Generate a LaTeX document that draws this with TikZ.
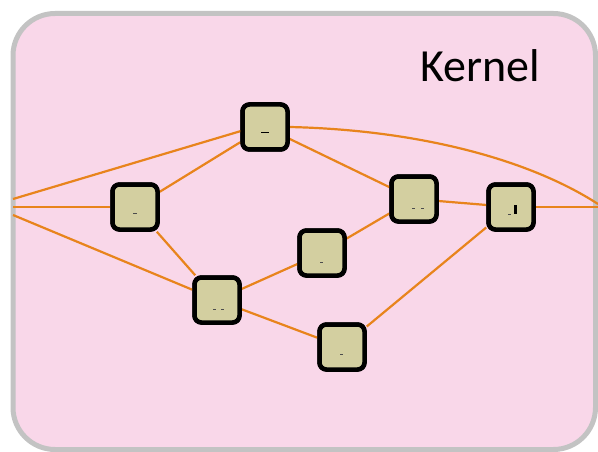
\documentclass[tikz,border=0pt]{standalone}
\usepackage{fontspec}
\setmainfont{Carlito}
\definecolor{kpink}{HTML}{F9D7E9}
\definecolor{kgray}{HTML}{C3C3C3}
\definecolor{kkhaki}{HTML}{D3CFA0}
\definecolor{korange}{HTML}{E8841C}
\tikzset{
  task/.style={draw=black, line width=4.5pt, fill=kkhaki, rounded corners=7pt,
    minimum width=45pt, minimum height=45pt, inner sep=0pt},
  flow/.style={draw=korange, line width=2.2pt},
  tick/.style={draw=black!70, line width=0.6pt}
}
\begin{document}
\begin{tikzpicture}[x=1pt,y=-1pt]
\useasboundingbox (0,0) rectangle (598,452);
\draw[kgray, fill=kpink, line width=5pt, rounded corners=42pt] (13,13.5) rectangle (595.5,449.5);
\node[font=\fontsize{46}{46}\selectfont, anchor=base] (kern) at (480,82) {Kernel};

\coordinate (l1) at (13,199);
\coordinate (l2) at (13,207);
\coordinate (l3) at (13,215);
\coordinate (r1) at (598,204);
\coordinate (r2) at (598,207);

\node[task] (A) at (265,127) {};
\node[task] (B) at (135,207) {};
\node[task] (C) at (414,199) {};
\node[task] (D) at (511,207) {};
\node[task] (E) at (217,300) {};
\node[task] (F) at (322,253) {};
\node[task] (G) at (342,347) {};

\draw[flow] (l1) -- (241,131);
\draw[flow] (l2) -- (B);
\draw[flow] (l3) -- (E);
\draw[flow] (B) -- (A);
\draw[flow] (B) -- (E);
\draw[flow] (A) -- (C);
\draw[flow] (A.east) .. controls (420,130) and (530,160) .. (r1);
\draw[flow] (E) -- (F);
\draw[flow] (E) -- (G);
\draw[flow] (F) -- (C);
\draw[flow] (C) -- (D);
\draw[flow] (G) -- (D);
\draw[flow] (D) -- (r2);

\node[task] at (A) {};
\node[task] at (B) {};
\node[task] at (C) {};
\node[task] at (D) {};
\node[task] at (E) {};
\node[task] at (F) {};
\node[task] at (G) {};

\draw[black, line width=1pt] ([xshift=-4pt,yshift=-6pt]A.center) -- ([xshift=4pt,yshift=-6pt]A.center);
\draw[tick] ([xshift=-2pt,yshift=-6pt]B.center) -- ([xshift=2pt,yshift=-6pt]B.center);
\draw[tick] ([xshift=-2pt,yshift=-9pt]C.center) -- ([xshift=1pt,yshift=-9pt]C.center);
\draw[tick] ([xshift=7pt,yshift=-9pt]C.center) -- ([xshift=10pt,yshift=-9pt]C.center);
\draw[tick] ([xshift=-4pt,yshift=-9pt]E.center) -- ([xshift=-1pt,yshift=-9pt]E.center);
\draw[tick] ([xshift=4pt,yshift=-9pt]E.center) -- ([xshift=7pt,yshift=-9pt]E.center);
\draw[tick] ([xshift=-2pt,yshift=-9pt]F.center) -- ([xshift=1pt,yshift=-9pt]F.center);
\draw[tick] ([xshift=-2pt,yshift=-7pt]G.center) -- ([xshift=1pt,yshift=-7pt]G.center);
\fill[black] ([xshift=3pt,yshift=-7pt]D.center) rectangle ([xshift=6pt,yshift=2pt]D.center);
\draw[tick] ([xshift=-3pt,yshift=-7pt]D.center) -- ([xshift=0pt,yshift=-7pt]D.center);
\end{tikzpicture}
\end{document}
